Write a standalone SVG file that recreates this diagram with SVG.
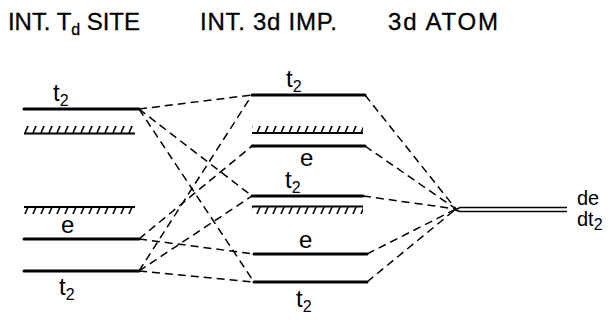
<svg xmlns="http://www.w3.org/2000/svg" width="614" height="320" viewBox="0 0 614 320">
<style>
.lvl{stroke:#000;stroke-width:3;stroke-linecap:round;fill:none}
.dash{stroke:#000;stroke-width:1.5;stroke-dasharray:8 5;fill:none}
.t{font-family:"Liberation Sans","DejaVu Sans",sans-serif;font-size:24px;fill:#000;stroke:#000;stroke-width:0.3}
.lb{font-family:"Liberation Sans","DejaVu Sans",sans-serif;font-size:24px;fill:#000}
.rl{font-family:"Liberation Sans","DejaVu Sans",sans-serif;font-size:20px;fill:#000}
.sub{font-size:16px}
</style>
<defs>
<pattern id="hatchA" patternUnits="userSpaceOnUse" x="0" y="126" width="8" height="7">
<path d="M1,7 L4,0" stroke="#000" stroke-width="1.6"/>
</pattern>
<pattern id="hatchB" patternUnits="userSpaceOnUse" x="0" y="207" width="8" height="7">
<path d="M1,7 L4,0" stroke="#000" stroke-width="1.6"/>
</pattern>
</defs>
<g id="headers">
<text class="t" x="8" y="30" textLength="132" lengthAdjust="spacing">INT. T<tspan class="sub" dy="5">d</tspan><tspan dy="-5"> SITE</tspan></text>
<text class="t" x="200" y="30" textLength="137" lengthAdjust="spacing">INT. 3d IMP.</text>
<text class="t" x="388" y="30" textLength="110" lengthAdjust="spacing">3d ATOM</text>
</g>
<g id="connectors">
<path class="dash" d="M139,109 L252,95"/>
<path class="dash" d="M139,109 L252,196"/>
<path class="dash" d="M139,109 L254,282"/>
<path class="dash" d="M139,271 L252,95"/>
<path class="dash" d="M139,271 L252,196"/>
<path class="dash" d="M139,271 L254,282"/>
<path class="dash" d="M139,239 L252,146"/>
<path class="dash" d="M139,239 L254,254"/>
<path class="dash" d="M365,95 L456,209"/>
<path class="dash" d="M365,146 L456,209"/>
<path class="dash" d="M363,196 L456,209"/>
<path class="dash" d="M367,254 L456,209"/>
<path class="dash" d="M367,282 L456,209"/>
</g>
<g id="td-site">
<line class="lvl" x1="24" y1="109" x2="139" y2="109"/>
<text class="lb" x="53" y="101">t<tspan class="sub" dy="5">2</tspan></text>
<line x1="24" y1="133.5" x2="135" y2="133.5" stroke="#000" stroke-width="2"/>
<rect x="24" y="126" width="111" height="7" fill="url(#hatchA)"/>
<line x1="24" y1="207" x2="135" y2="207" stroke="#000" stroke-width="2"/>
<rect x="24" y="207" width="111" height="7" fill="url(#hatchB)"/>
<line class="lvl" x1="24" y1="239" x2="139" y2="239"/>
<text class="lb" x="61" y="233">e</text>
<line class="lvl" x1="24" y1="271" x2="139" y2="271"/>
<text class="lb" x="59" y="295">t<tspan class="sub" dy="5">2</tspan></text>
</g>
<g id="imp">
<line class="lvl" x1="252" y1="95" x2="365" y2="95"/>
<text class="lb" x="286" y="87">t<tspan class="sub" dy="5">2</tspan></text>
<line x1="252" y1="133" x2="363" y2="133" stroke="#000" stroke-width="2"/>
<rect x="252" y="126" width="111" height="7" fill="url(#hatchA)"/>
<line class="lvl" x1="252" y1="146" x2="365" y2="146"/>
<text class="lb" x="300" y="166">e</text>
<line class="lvl" x1="252" y1="196" x2="363" y2="196"/>
<text class="lb" x="285" y="188">t<tspan class="sub" dy="5">2</tspan></text>
<line x1="252" y1="206.5" x2="363" y2="206.5" stroke="#000" stroke-width="2"/>
<rect x="252" y="207" width="111" height="7" fill="url(#hatchB)"/>
<line class="lvl" x1="254" y1="254" x2="367" y2="254"/>
<text class="lb" x="299" y="248">e</text>
<line class="lvl" x1="254" y1="282" x2="367" y2="282"/>
<text class="lb" x="296" y="307">t<tspan class="sub" dy="5">2</tspan></text>
</g>
<g id="atom">
<path d="M455,210 L460,207.5 L567,207.5" stroke="#000" stroke-width="1.5" fill="none"/>
<path d="M455,210 L460,211.5 L567,211.5" stroke="#000" stroke-width="1.5" fill="none"/>
<text class="rl" x="577" y="205">de</text>
<text class="rl" x="577" y="226">dt<tspan class="sub" dy="4">2</tspan></text>
</g>
</svg>
